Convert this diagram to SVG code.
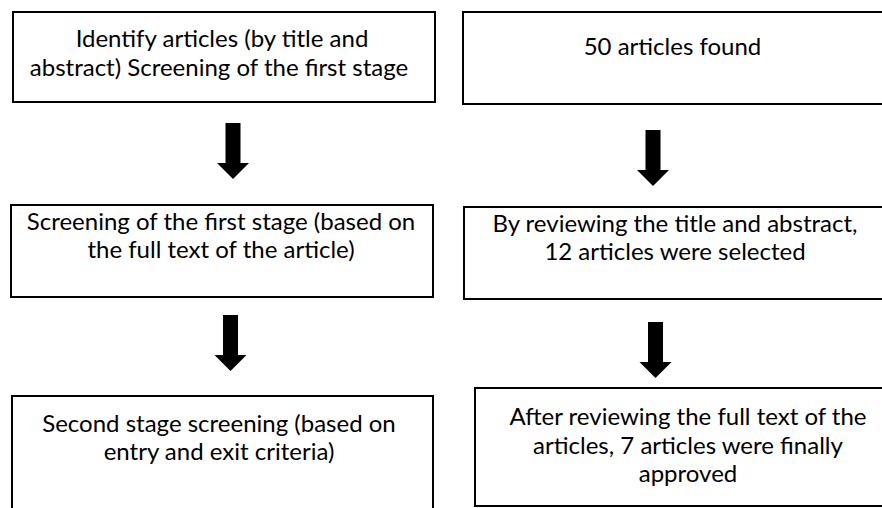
<svg xmlns="http://www.w3.org/2000/svg" width="882" height="508" viewBox="0 0 882 508">
  <style>
    .box { fill: #ffffff; stroke: #000000; stroke-width: 2; }
    .t { font-family: Lato, "Liberation Sans", Arial, sans-serif; font-size: 24px; fill: #000000; text-anchor: middle; }
    .arr { fill: #000000; }
  </style>
  <defs>
    <path id="arrow" d="M -7.5 0 L 7.5 0 L 7.5 40 L 16 40 L 0 56 L -16 40 L -7.5 40 Z"/>
  </defs>
  <rect x="0" y="0" width="882" height="508" fill="#ffffff"/>

  <g id="node-identify">
    <rect class="box" x="13" y="12" width="422" height="90"/>
    <text class="t" x="222" y="47">Identify articles (by title and</text>
    <text class="t" x="219" y="76">abstract) Screening of the first stage</text>
  </g>

  <g id="node-found">
    <rect class="box" x="463" y="12" width="440" height="92"/>
    <text class="t" x="672.5" y="55">50 articles found</text>
  </g>

  <g id="node-screen1">
    <rect class="box" x="11" y="205" width="422" height="92"/>
    <text class="t" x="221" y="230">Screening of the first stage (based on</text>
    <text class="t" x="221" y="258">the full text of the article)</text>
  </g>

  <g id="node-selected">
    <rect class="box" x="464" y="207" width="440" height="92"/>
    <text class="t" x="675" y="232">By reviewing the title and abstract,</text>
    <text class="t" x="675" y="260">12 articles were selected</text>
  </g>

  <g id="node-screen2">
    <rect class="box" x="12" y="396" width="421" height="130"/>
    <text class="t" x="219" y="432">Second stage screening (based on</text>
    <text class="t" x="219" y="460">entry and exit criteria)</text>
  </g>

  <g id="node-approved">
    <rect class="box" x="475" y="388" width="440" height="118"/>
    <text class="t" x="688" y="425">After reviewing the full text of the</text>
    <text class="t" x="688" y="454">articles, 7 articles were finally</text>
    <text class="t" x="688" y="482">approved</text>
  </g>

  <g id="connectors">
    <use href="#arrow" class="arr" transform="translate(233,123)"/>
    <use href="#arrow" class="arr" transform="translate(230.5,315)"/>
    <use href="#arrow" class="arr" transform="translate(653,130)"/>
    <use href="#arrow" class="arr" transform="translate(655.5,322)"/>
  </g>
</svg>
